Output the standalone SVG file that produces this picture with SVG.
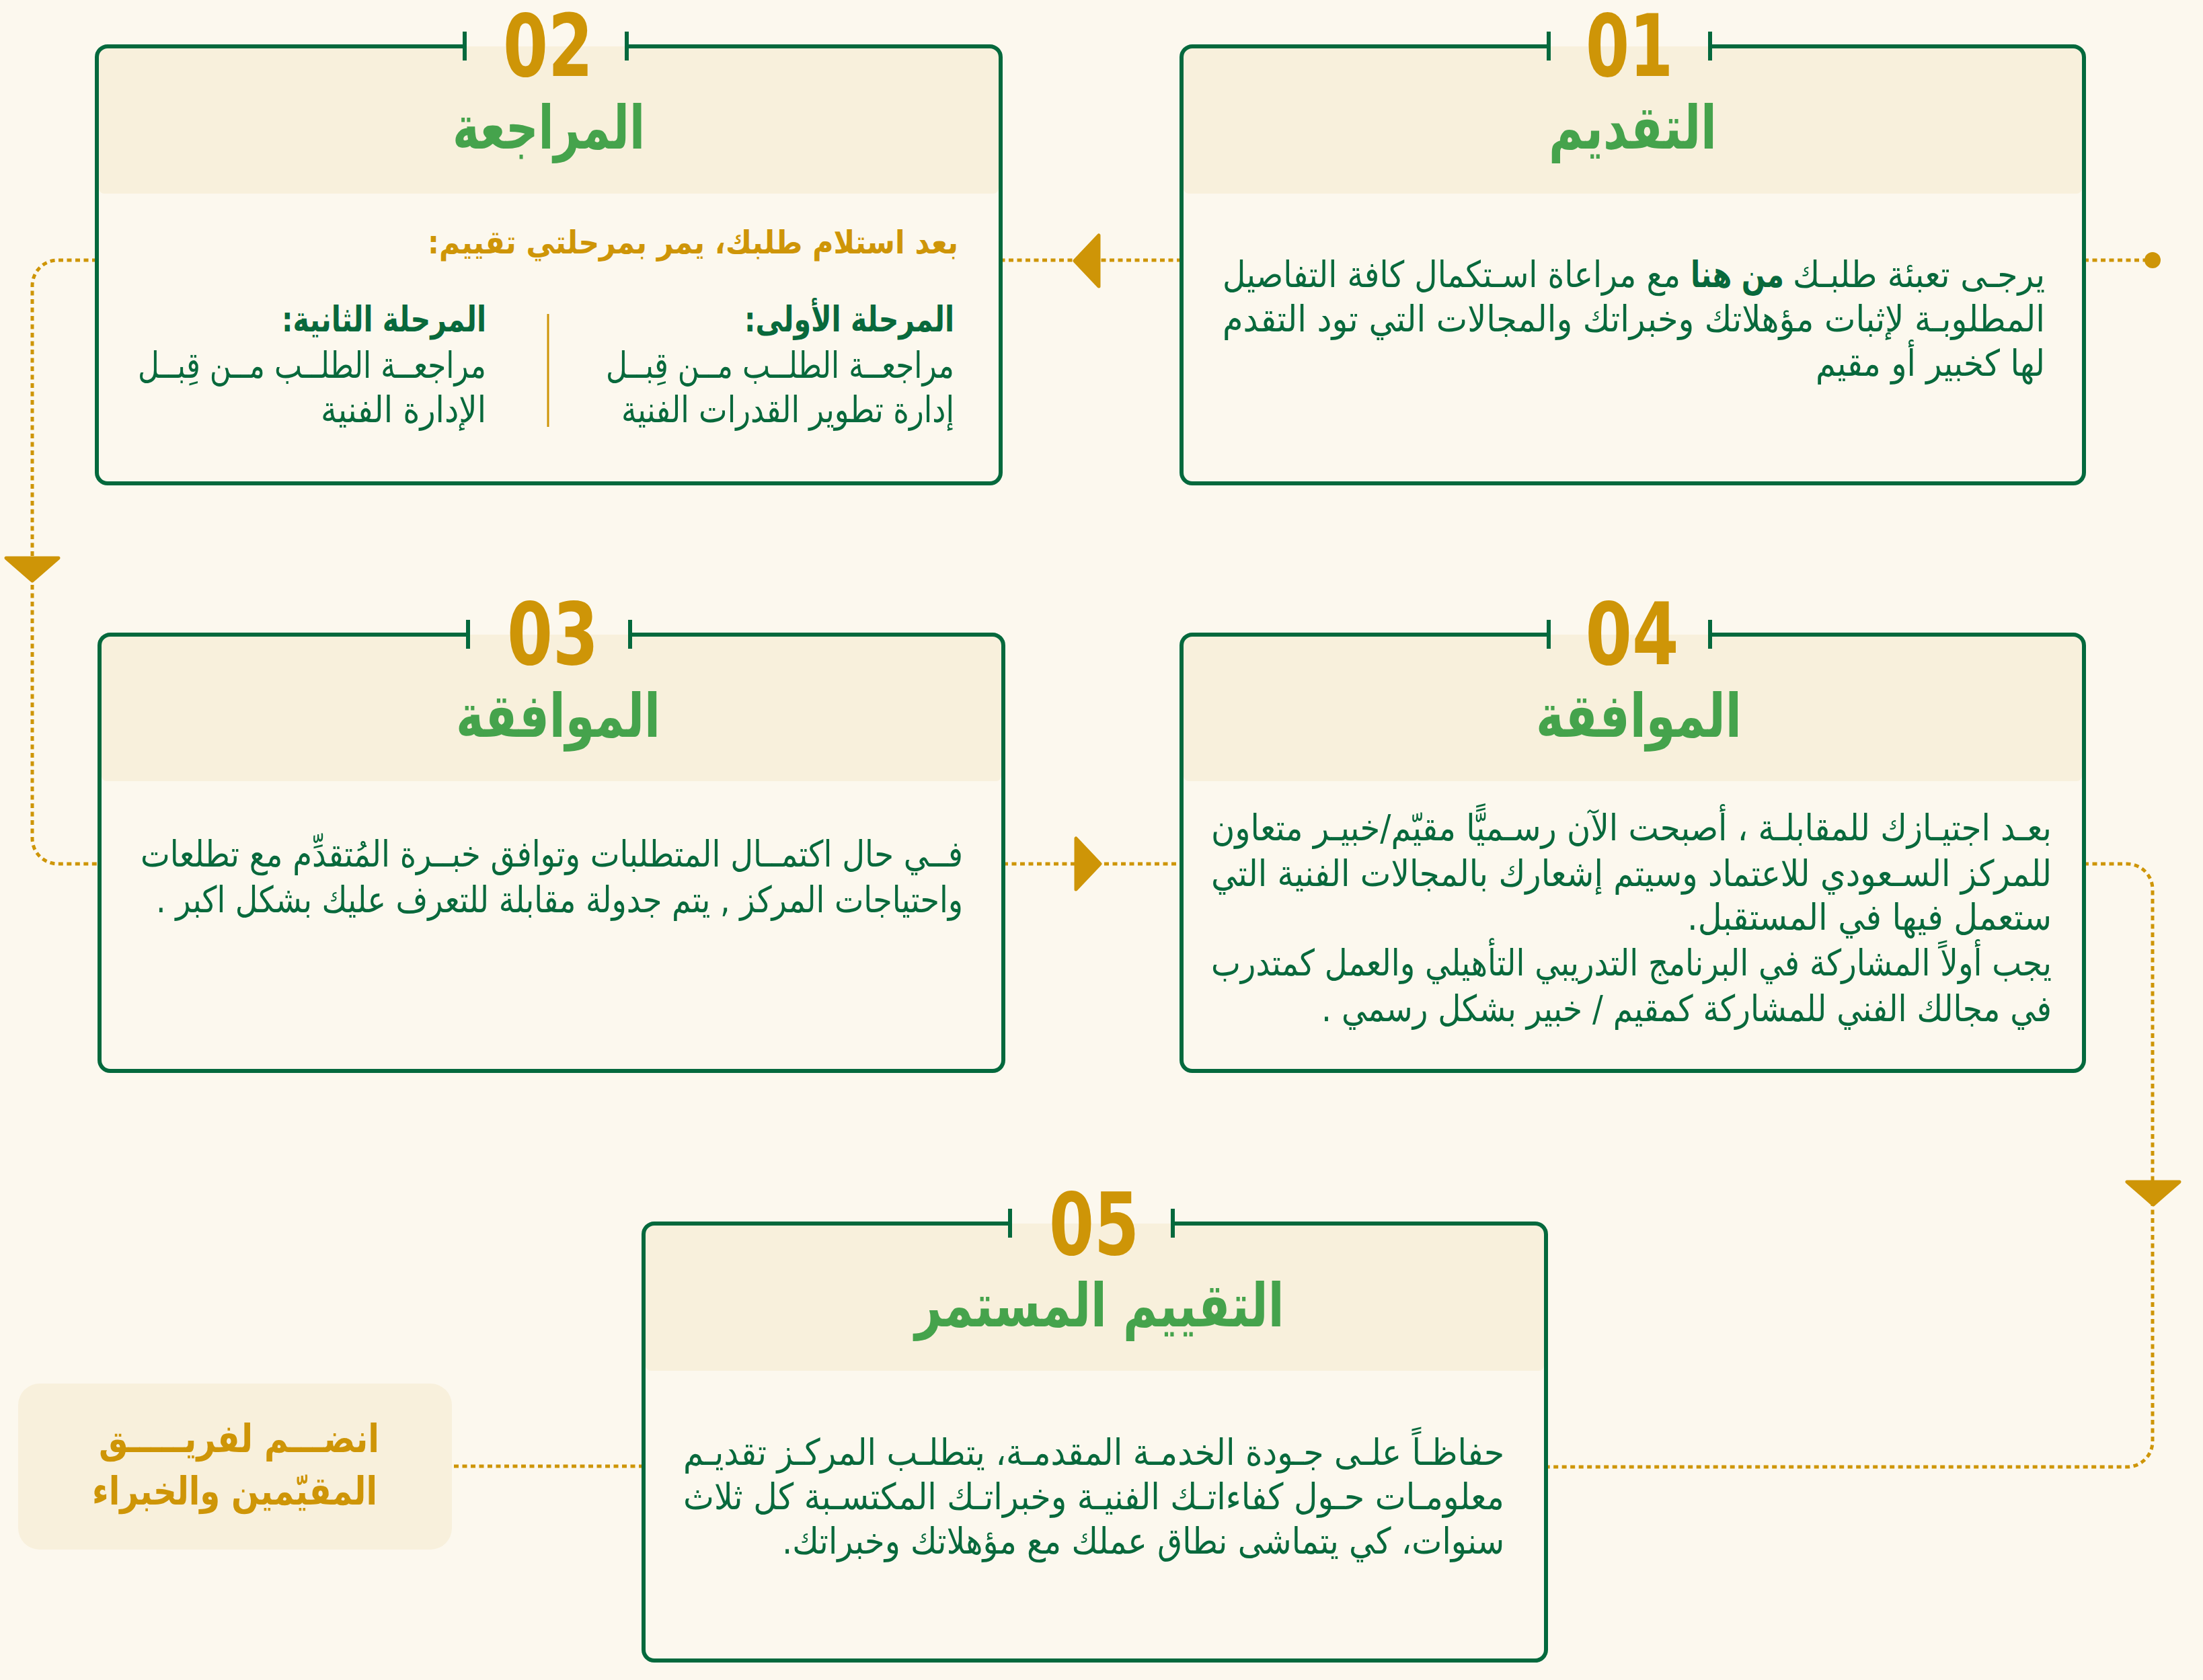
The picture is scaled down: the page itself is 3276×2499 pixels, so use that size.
<svg xmlns="http://www.w3.org/2000/svg" width="3276" height="2499" viewBox="0 0 3276 2499">
<defs>
<style>
.bg{fill:#FCF8EE}
.band{fill:#F8F0DC}
.border{fill:none;stroke:#04693D;stroke-width:6;stroke-linejoin:round}
.tick{stroke:#04693D;stroke-width:6}
.num{font-family:"DejaVu Sans Condensed","DejaVu Sans",sans-serif;font-stretch:condensed;font-weight:bold;font-size:128px;fill:#CE9507;text-anchor:middle}
.title{font-family:"DejaVu Sans",sans-serif;font-weight:bold;font-size:90px;fill:#45A34C;text-anchor:middle}
.body{font-family:"DejaVu Sans",sans-serif;font-size:54px;fill:#08693C;text-anchor:middle}
.bold{font-weight:bold}
.bhead{font-family:"DejaVu Sans",sans-serif;font-weight:bold;font-size:52px;fill:#08693C;text-anchor:middle}
.sub{font-family:"DejaVu Sans",sans-serif;font-weight:bold;font-size:48px;fill:#CE9507;text-anchor:middle}
.join{font-family:"DejaVu Sans",sans-serif;font-weight:bold;font-size:58px;fill:#CE9507;text-anchor:middle}
.conn{fill:none;stroke:#CE9507;stroke-width:5;stroke-dasharray:7 5.5}
.arrow{fill:#CE9507;stroke:#CE9507;stroke-width:5;stroke-linejoin:round}
</style>
</defs>
<rect class="bg" x="0" y="0" width="3276" height="2499"/>

<g id="connectors">
<path class="conn" d="M3099 387 H3201"/>
<circle cx="3201" cy="387" r="12" fill="#CE9507"/>
<path class="conn" d="M1757 387 H1488"/>
<polygon class="arrow" points="1598,388 1634,350 1634,426"/>
<path class="conn" d="M144 387 H86 A38 38 0 0 0 48 425 V1247 A38 38 0 0 0 86 1285 H148"/>
<polygon class="arrow" points="9,830 87,830 48,864"/>
<path class="conn" d="M1492 1285 H1757"/>
<polygon class="arrow" points="1636,1285 1600,1247 1600,1323"/>
<path class="conn" d="M3099 1285 H3163 A38 38 0 0 1 3201 1323 V2144 A38 38 0 0 1 3163 2182 H2299"/>
<polygon class="arrow" points="3163,1758 3241,1758 3202,1792"/>
<path class="conn" d="M957 2181 H671"/>
</g>

<g id="node-01">
<rect class="bg" x="1757" y="69" width="1342" height="650" rx="16"/>
<rect class="band" x="1760" y="69" width="1336" height="219" rx="8"/>
<path class="border" d="M2303 69 H1773 A16 16 0 0 0 1757 85 V703 A16 16 0 0 0 1773 719 H3083 A16 16 0 0 0 3099 703 V85 A16 16 0 0 0 3083 69 H2543"/>
<line class="tick" x1="2303" y1="47" x2="2303" y2="90"/>
<line class="tick" x1="2543" y1="47" x2="2543" y2="90"/>
<text class="num" x="2423" y="113" textLength="130" lengthAdjust="spacingAndGlyphs">01</text>
<text class="title" x="2428" y="221" direction="rtl" textLength="250" lengthAdjust="spacingAndGlyphs">التقديم</text>
<text class="body" x="2853.5" y="427" direction="rtl" textLength="375" lengthAdjust="spacingAndGlyphs">يرجـى تعبئة طلبـك</text>
<text class="body bold" x="2583.5" y="427" direction="rtl" textLength="139" lengthAdjust="spacingAndGlyphs">من هنا</text>
<text class="body" x="2158.5" y="427" direction="rtl" textLength="681" lengthAdjust="spacingAndGlyphs">مع مراعاة اسـتكمال كافة التفاصيل</text>
<text class="body" x="2429.5" y="493" direction="rtl" textLength="1223" lengthAdjust="spacingAndGlyphs">المطلوبـة لإثبات مؤهلاتك وخبراتك والمجالات التي تود التقدم</text>
<text class="body" x="2870.5" y="559" direction="rtl" textLength="341" lengthAdjust="spacingAndGlyphs">لها كخبير أو مقيم</text>
</g>

<g id="node-02">
<rect class="bg" x="144" y="69" width="1344" height="650" rx="16"/>
<rect class="band" x="147" y="69" width="1338" height="219" rx="8"/>
<path class="border" d="M691 69 H160 A16 16 0 0 0 144 85 V703 A16 16 0 0 0 160 719 H1472 A16 16 0 0 0 1488 703 V85 A16 16 0 0 0 1472 69 H932"/>
<line class="tick" x1="691" y1="47" x2="691" y2="90"/>
<line class="tick" x1="932" y1="47" x2="932" y2="90"/>
<text class="num" x="815" y="113" textLength="134" lengthAdjust="spacingAndGlyphs">02</text>
<text class="title" x="816" y="221" direction="rtl" textLength="286" lengthAdjust="spacingAndGlyphs">المراجعة</text>
<text class="sub" x="1030.5" y="377" direction="rtl" textLength="789" lengthAdjust="spacingAndGlyphs">بعد استلام طلبك، يمر بمرحلتي تقييم:</text>
<text class="bhead" x="1263" y="493" direction="rtl" textLength="312" lengthAdjust="spacingAndGlyphs">المرحلة الأولى:</text>
<text class="body" x="1160" y="562" direction="rtl" textLength="518" lengthAdjust="spacingAndGlyphs">مراجعــة الطلــب مــن قِبــل</text>
<text class="body" x="1171.5" y="628" direction="rtl" textLength="495" lengthAdjust="spacingAndGlyphs">إدارة تطوير القدرات الفنية</text>
<line x1="815" y1="467" x2="815" y2="635" stroke="#CE9507" stroke-width="3"/>
<text class="bhead" x="571" y="493" direction="rtl" textLength="304" lengthAdjust="spacingAndGlyphs">المرحلة الثانية:</text>
<text class="body" x="464" y="562" direction="rtl" textLength="518" lengthAdjust="spacingAndGlyphs">مراجعــة الطلــب مــن قِبــل</text>
<text class="body" x="600" y="628" direction="rtl" textLength="246" lengthAdjust="spacingAndGlyphs">الإدارة الفنية</text>
</g>

<g id="node-03">
<rect class="bg" x="148" y="944" width="1344" height="649" rx="16"/>
<rect class="band" x="151" y="944" width="1338" height="218" rx="8"/>
<path class="border" d="M696 944 H164 A16 16 0 0 0 148 960 V1577 A16 16 0 0 0 164 1593 H1476 A16 16 0 0 0 1492 1577 V960 A16 16 0 0 0 1476 944 H937"/>
<line class="tick" x1="696" y1="922" x2="696" y2="965"/>
<line class="tick" x1="937" y1="922" x2="937" y2="965"/>
<text class="num" x="822" y="988" textLength="136" lengthAdjust="spacingAndGlyphs">03</text>
<text class="title" x="830" y="1096" direction="rtl" textLength="304" lengthAdjust="spacingAndGlyphs">الموافقة</text>
<text class="body" x="820.5" y="1289" direction="rtl" textLength="1223" lengthAdjust="spacingAndGlyphs">فــي حال اكتمــال المتطلبات وتوافق خبــرة المُتقدِّم مع تطلعات</text>
<text class="body" x="832" y="1357" direction="rtl" textLength="1200" lengthAdjust="spacingAndGlyphs">واحتياجات المركز , يتم جدولة مقابلة للتعرف عليك بشكل اكبر .</text>
</g>

<g id="node-04">
<rect class="bg" x="1757" y="944" width="1342" height="649" rx="16"/>
<rect class="band" x="1760" y="944" width="1336" height="218" rx="8"/>
<path class="border" d="M2303 944 H1773 A16 16 0 0 0 1757 960 V1577 A16 16 0 0 0 1773 1593 H3083 A16 16 0 0 0 3099 1577 V960 A16 16 0 0 0 3083 944 H2543"/>
<line class="tick" x1="2303" y1="922" x2="2303" y2="965"/>
<line class="tick" x1="2543" y1="922" x2="2543" y2="965"/>
<text class="num" x="2427" y="988" textLength="139" lengthAdjust="spacingAndGlyphs">04</text>
<text class="title" x="2437" y="1096" direction="rtl" textLength="306" lengthAdjust="spacingAndGlyphs">الموافقة</text>
<text class="body" x="2426" y="1250" direction="rtl" textLength="1250" lengthAdjust="spacingAndGlyphs">بعـد اجتيـازك للمقابلـة ، أصبحت الآن رسـميًّا مقيّم/خبيـر متعاون</text>
<text class="body" x="2426" y="1318" direction="rtl" textLength="1250" lengthAdjust="spacingAndGlyphs">للمركز السـعودي للاعتماد وسيتم إشعارك بالمجالات الفنية التي</text>
<text class="body" x="2780" y="1383" direction="rtl" textLength="542" lengthAdjust="spacingAndGlyphs">ستعمل فيها في المستقبل.</text>
<text class="body" x="2426" y="1451" direction="rtl" textLength="1250" lengthAdjust="spacingAndGlyphs">يجب أولاً المشاركة في البرنامج التدريبي التأهيلي والعمل كمتدرب</text>
<text class="body" x="2508" y="1519" direction="rtl" textLength="1086" lengthAdjust="spacingAndGlyphs">في مجالك الفني للمشاركة كمقيم / خبير بشكل رسمي .</text>
</g>

<g id="node-05">
<rect class="bg" x="957" y="1820" width="1342" height="650" rx="16"/>
<rect class="band" x="960" y="1820" width="1336" height="219" rx="8"/>
<path class="border" d="M1502 1820 H973 A16 16 0 0 0 957 1836 V2454 A16 16 0 0 0 973 2470 H2283 A16 16 0 0 0 2299 2454 V1836 A16 16 0 0 0 2283 1820 H1744"/>
<line class="tick" x1="1502" y1="1798" x2="1502" y2="1841"/>
<line class="tick" x1="1744" y1="1798" x2="1744" y2="1841"/>
<text class="num" x="1627" y="1866" textLength="134" lengthAdjust="spacingAndGlyphs">05</text>
<text class="title" x="1635" y="1973" direction="rtl" textLength="549" lengthAdjust="spacingAndGlyphs">التقييم المستمر</text>
<text class="body" x="1626.5" y="2179" direction="rtl" textLength="1221" lengthAdjust="spacingAndGlyphs">حفاظـاً علـى جـودة الخدمـة المقدمـة، يتطلـب المركـز تقديـم</text>
<text class="body" x="1626.5" y="2245" direction="rtl" textLength="1221" lengthAdjust="spacingAndGlyphs">معلومـات حـول كفاءاتـك الفنيـة وخبراتـك المكتسـبة كل ثلاث</text>
<text class="body" x="1700" y="2311" direction="rtl" textLength="1074" lengthAdjust="spacingAndGlyphs">سنوات، كي يتماشى نطاق عملك مع مؤهلاتك وخبراتك.</text>
</g>

<g id="node-join">
<rect class="band" x="27" y="2058" width="645" height="247" rx="32"/>
<text class="join" x="355.5" y="2160" direction="rtl" textLength="417" lengthAdjust="spacingAndGlyphs">انضـــم لفريـــــق</text>
<text class="join" x="349" y="2238" direction="rtl" textLength="424" lengthAdjust="spacingAndGlyphs">المقيّمين والخبراء</text>
</g>
</svg>
